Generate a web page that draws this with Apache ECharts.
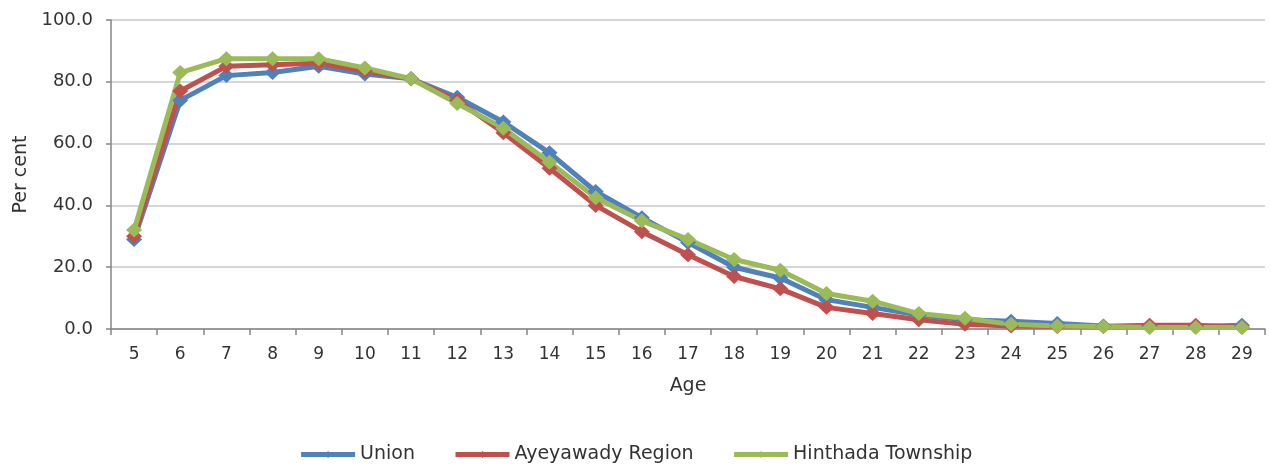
<!DOCTYPE html>
<html>
<head>
<meta charset="utf-8">
<script src="https://cdn.jsdelivr.net/npm/echarts@6/dist/echarts.min.js"></script>
<style>
html,body{margin:0;padding:0;background:#fff;}
#chart{width:1271px;height:466px;}
</style>
</head>
<body>
<div id="chart"></div>
<script>
const ages = ['5','6','7','8','9','10','11','12','13','14','15','16','17','18','19','20','21','22','23','24','25','26','27','28','29'];
const yTicks = [0, 20, 40, 60, 80, 100];
const unionVals = [29, 74, 82, 83, 85, 82.5, 81, 75, 67, 57, 44.5, 36, 28, 20, 16.5, 9.5, 7, 4.5, 3, 2.5, 1.8, 1, 0.8, 0.8, 1.2];
const ayeyawadyVals = [30, 77, 85, 85.5, 86, 83.5, 81, 74, 63.5, 52, 40, 31.5, 24, 17, 13, 7, 5, 3, 1.5, 1, 0.8, 0.8, 1.2, 1.2, 0.6];
const hinthadaVals = [32, 83, 87.5, 87.5, 87.5, 84.5, 81, 73, 65, 54, 42.5, 35, 29, 22.5, 19, 11.5, 9, 5, 3.5, 1.5, 1, 0.8, 0.5, 0.5, 0.5];
const seriesNames = ['Union', 'Ayeyawady Region', 'Hinthada Township'];
const seriesColors = ['#4F81BD', '#C0504D', '#9BBB59'];

const font = 'DejaVu Sans';
const txt = '#333333';
const chart = echarts.init(document.getElementById('chart'), null, {renderer: 'canvas'});

function mkSeries(name, data, color) {
  return {
    name: name,
    type: 'line',
    data: data,
    symbol: 'diamond',
    symbolSize: [16, 15],
    showAllSymbol: true,
    lineStyle: {width: 5, color: color},
    itemStyle: {color: color},
    emphasis: {disabled: true},
    animation: false
  };
}

chart.setOption({
  animation: false,
  grid: {left: 111, right: 6, top: 20, bottom: 137, containLabel: false},
  legend: {
    show: true,
    data: seriesNames,
    top: 440,
    left: 'center',
    itemWidth: 54,
    itemHeight: 9,
    itemGap: 38,
    lineStyle: {width: 5},
    textStyle: {fontFamily: font, fontSize: 19, color: txt}
  },
  xAxis: {
    type: 'category',
    data: ages,
    boundaryGap: true,
    name: 'Age',
    nameLocation: 'middle',
    nameGap: 48,
    nameTextStyle: {fontFamily: font, fontSize: 19, color: txt},
    axisLine: {lineStyle: {color: '#868686', width: 1.5}},
    axisTick: {show: true, length: 6, alignWithLabel: false, lineStyle: {color: '#868686', width: 1.5}},
    axisLabel: {fontFamily: font, fontSize: 17, color: txt, margin: 17, interval: 0}
  },
  yAxis: {
    type: 'value',
    min: yTicks[0],
    max: yTicks[yTicks.length - 1],
    interval: 20,
    name: 'Per cent',
    nameLocation: 'middle',
    nameGap: 80,
    nameRotate: 90,
    nameTextStyle: {fontFamily: font, fontSize: 19, color: txt},
    axisLine: {show: true, lineStyle: {color: '#868686', width: 1.5}},
    axisTick: {show: true, length: 5, lineStyle: {color: '#868686', width: 1.5}},
    axisLabel: {fontFamily: font, fontSize: 18, color: txt, margin: 18, formatter: v => v.toFixed(1)},
    splitLine: {show: true, lineStyle: {color: '#C8C8C8', width: 1.5}}
  },
  series: [
    mkSeries(seriesNames[0], unionVals, seriesColors[0]),
    mkSeries(seriesNames[1], ayeyawadyVals, seriesColors[1]),
    mkSeries(seriesNames[2], hinthadaVals, seriesColors[2])
  ]
});
</script>
</body>
</html>
